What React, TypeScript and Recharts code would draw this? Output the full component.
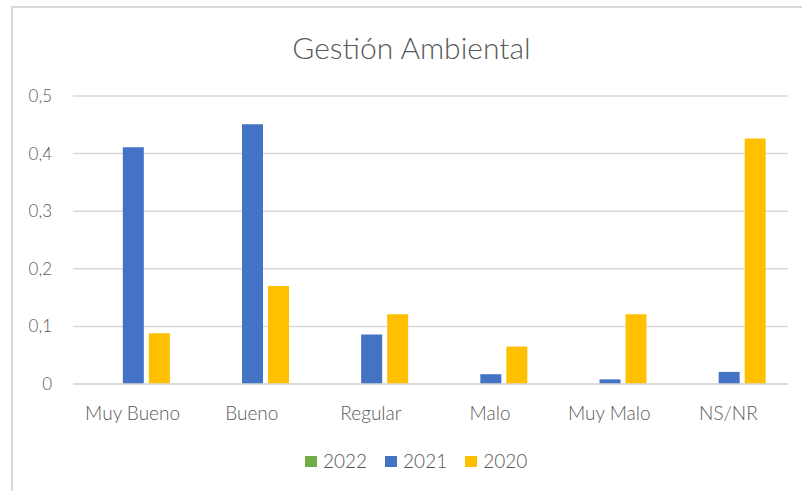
import React from 'react';
import { BarChart, Bar, XAxis, YAxis, CartesianGrid, Legend } from 'recharts';

const categories = ['Muy Bueno', 'Bueno', 'Regular', 'Malo', 'Muy Malo', 'NS/NR'];
const values2022 = [0, 0, 0, 0, 0, 0];
const values2021 = [0.411, 0.451, 0.086, 0.017, 0.008, 0.021];
const values2020 = [0.088, 0.17, 0.121, 0.065, 0.121, 0.426];
const yTicks = [0, 0.1, 0.2, 0.3, 0.4, 0.5];
const seriesNames = ['2022', '2021', '2020'];
const seriesColors = ['#70AD47', '#4472C4', '#FFC000'];

const data = categories.map((c, i) => ({
  name: c,
  s2022: values2022[i],
  s2021: values2021[i],
  s2020: values2020[i],
}));

const FONT = 'Lato, "Open Sans", sans-serif';
const TEXT = '#595959';

const LegendContent = () => (
  <div style={{ display: 'flex', alignItems: 'center', fontFamily: FONT, fontSize: 19, fontWeight: 300, color: TEXT, lineHeight: '20px', whiteSpace: 'nowrap' }}>
    {seriesNames.map((n, i) => (
      <div key={n} style={{ display: 'flex', alignItems: 'center', marginRight: i < seriesNames.length - 1 ? 18 : 0 }}>
        <span style={{ display: 'inline-block', width: 12, height: 11, background: seriesColors[i], marginRight: 6 }} />
        <span>{n}</span>
      </div>
    ))}
  </div>
);

export default function App() {
  return (
    <div style={{ position: 'absolute', left: 0, top: 0, width: 802, height: 491, background: '#fff', overflow: 'hidden' }}>
      <div style={{ position: 'absolute', left: 11, top: 6, right: 0, bottom: 0, borderTop: '2px solid #d9d9d9', borderLeft: '2px solid #d9d9d9' }} />
      <div style={{ position: 'absolute', left: 0, top: 31.5, width: 823, textAlign: 'center', fontFamily: FONT, fontSize: 30, lineHeight: '30px', color: TEXT, fontWeight: 300 }}>
        Gestión Ambiental
      </div>
      <div style={{ position: 'absolute', left: 0, top: 0 }}>
        <BarChart width={802} height={491} data={data} margin={{ top: 96, right: 14, left: 0, bottom: 77 }} barCategoryGap="20%" barGap={5}>
          <CartesianGrid vertical={false} stroke="#d9d9d9" strokeWidth={1.5} />
          <XAxis dataKey="name" height={30} tickLine={false} axisLine={{ stroke: '#d9d9d9', strokeWidth: 1.5 }} tickSize={0} tickMargin={23}
            tick={{ fill: TEXT, fontSize: 19, fontFamily: FONT, fontWeight: 300 }} interval={0} />
          <YAxis width={73} domain={[0, 0.5]} ticks={yTicks} tickLine={false} axisLine={false} tickSize={0} tickMargin={21}
            tick={{ fill: TEXT, fontSize: 17, fontFamily: FONT, fontWeight: 300 }}
            tickFormatter={(v: number) => String(v).replace('.', ',')} />
          <Legend layout="horizontal" verticalAlign="middle" align="center" content={LegendContent}
            wrapperStyle={{ position: 'absolute', left: 305, top: 451, width: 'auto' }} />
          <Bar dataKey="s2022" name="2022" fill={seriesColors[0]} isAnimationActive={false} />
          <Bar dataKey="s2021" name="2021" fill={seriesColors[1]} isAnimationActive={false} />
          <Bar dataKey="s2020" name="2020" fill={seriesColors[2]} isAnimationActive={false} />
        </BarChart>
      </div>
    </div>
  );
}
